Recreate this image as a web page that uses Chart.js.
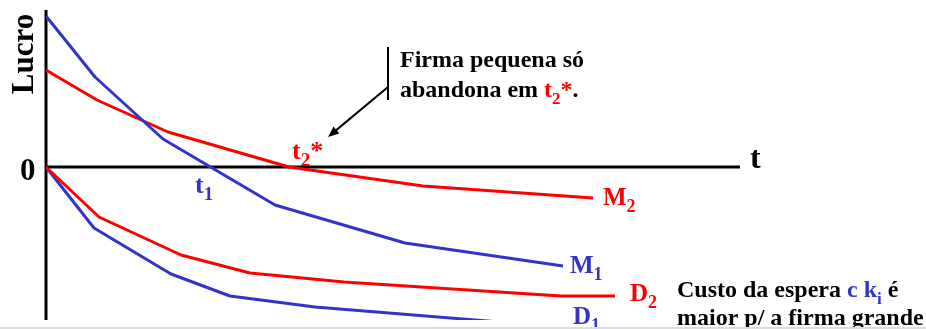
<!DOCTYPE html>
<html>
<head>
<meta charset="utf-8">
<script src="https://cdn.jsdelivr.net/npm/chart.js@4/dist/chart.umd.min.js"></script>
<style>
html,body{margin:0;padding:0;background:#fff;}
canvas{display:block;}
</style>
</head>
<body>
<canvas id="c" width="926" height="329"></canvas>
<script>
// Time values (t) and profit values (Lucro), arbitrary units
const m1T = [0, 4.9, 11.7, 22.9, 35.9, 51.7];
const m1V = [15.1, 9.0, 2.8, -3.8, -7.6, -9.9];
const m2T = [0, 5.1, 12.2, 24.3, 37.7, 54.7];
const m2V = [9.7, 6.7, 3.5, 0, -1.9, -3.1];
const d2T = [0, 5.3, 13.5, 20.4, 29.8, 51.5, 56.9];
const d2V = [0, -5.0, -8.8, -10.6, -11.5, -12.9, -12.9];
const d1T = [0, 4.8, 12.5, 18.4, 26.9, 46.6, 51.5];
const d1V = [0, -6.1, -10.7, -12.9, -14.0, -15.6, -15.7];
const seriesNames = ['M1', 'M2', 'D2', 'D1'];

const RED = '#ff0000';
const BLUE = '#3333cc';
const FONT = '"Liberation Serif", "Times New Roman", serif';

function pts(ts, vs) { return ts.map((t, i) => ({x: t, y: vs[i]})); }

function drawRich(ctx, x, y, parts, size) {
  let cx = x;
  for (const p of parts) {
    const s = p.sub ? Math.round(size * 0.72) : size;
    ctx.font = 'bold ' + s + 'px ' + FONT;
    ctx.fillStyle = p.c || '#000';
    ctx.textAlign = 'left';
    ctx.textBaseline = 'alphabetic';
    const yy = p.sub ? y + size * 0.28 : y;
    ctx.fillText(p.t, cx, yy);
    cx += ctx.measureText(p.t).width;
  }
}

const decor = {
  id: 'decor',
  beforeDatasetsDraw(chart) {
    const ctx = chart.ctx;
    const xs = chart.scales.x, ys = chart.scales.y;
    const x0 = xs.getPixelForValue(0), y0 = ys.getPixelForValue(0);
    ctx.save();
    ctx.strokeStyle = '#000';
    ctx.lineWidth = 3;
    ctx.beginPath();
    ctx.moveTo(x0, chart.chartArea.top);
    ctx.lineTo(x0, chart.chartArea.bottom);
    ctx.moveTo(x0, y0);
    ctx.lineTo(chart.chartArea.right, y0);
    ctx.stroke();
    ctx.restore();
  },
  afterDraw(chart) {
    const ctx = chart.ctx;
    ctx.save();
    // Lucro rotated
    ctx.translate(33, 54);
    ctx.rotate(-Math.PI / 2);
    ctx.font = 'bold 31px ' + FONT;
    ctx.fillStyle = '#000';
    ctx.textAlign = 'center';
    ctx.textBaseline = 'alphabetic';
    ctx.fillText('Lucro', 0, 0);
    ctx.restore();

    ctx.save();
    drawRich(ctx, 20, 180, [{t: '0'}], 31);
    drawRich(ctx, 750, 168, [{t: 't'}], 32);
    drawRich(ctx, 195, 193, [{t: 't', c: BLUE}, {t: '1', c: BLUE, sub: true}], 26);
    drawRich(ctx, 292, 159, [{t: 't', c: RED}, {t: '2', c: RED, sub: true}, {t: '*', c: RED}], 26);

    drawRich(ctx, 400, 67, [{t: 'Firma pequena só'}], 24);
    drawRich(ctx, 400, 97, [{t: 'abandona em '}, {t: 't', c: RED}, {t: '2', c: RED, sub: true}, {t: '*', c: RED}, {t: '.'}], 24);

    drawRich(ctx, 603, 205, [{t: 'M', c: RED}, {t: '2', c: RED, sub: true}], 25);
    drawRich(ctx, 570, 273, [{t: 'M', c: BLUE}, {t: '1', c: BLUE, sub: true}], 25);
    drawRich(ctx, 630, 301, [{t: 'D', c: RED}, {t: '2', c: RED, sub: true}], 25);
    drawRich(ctx, 573, 324, [{t: 'D', c: BLUE}, {t: '1', c: BLUE, sub: true}], 25);

    drawRich(ctx, 677, 297, [{t: 'Custo da espera '}, {t: 'c k', c: BLUE}, {t: 'i', c: BLUE, sub: true}, {t: ' é'}], 24);
    drawRich(ctx, 677, 325, [{t: 'maior p/ a firma grande'}], 24);

    // bracket and arrow
    ctx.strokeStyle = '#000';
    ctx.fillStyle = '#000';
    ctx.lineWidth = 2;
    ctx.beginPath();
    ctx.moveTo(388, 47);
    ctx.lineTo(388, 100);
    ctx.stroke();
    const ax = 388, ay = 87, bx = 328, by = 137;
    const ang = Math.atan2(by - ay, bx - ax);
    ctx.beginPath();
    ctx.moveTo(ax, ay);
    ctx.lineTo(bx - 8 * Math.cos(ang), by - 8 * Math.sin(ang));
    ctx.stroke();
    ctx.beginPath();
    ctx.moveTo(bx, by);
    ctx.lineTo(bx - 11 * Math.cos(ang) + 4.5 * Math.sin(ang), by - 11 * Math.sin(ang) - 4.5 * Math.cos(ang));
    ctx.lineTo(bx - 11 * Math.cos(ang) - 4.5 * Math.sin(ang), by - 11 * Math.sin(ang) + 4.5 * Math.cos(ang));
    ctx.closePath();
    ctx.fill();

    // bottom grey rule
    ctx.strokeStyle = '#dddddd';
    ctx.lineWidth = 2;
    ctx.beginPath();
    ctx.moveTo(0, 328);
    ctx.lineTo(926, 328);
    ctx.stroke();
    ctx.restore();
  }
};

new Chart(document.getElementById('c'), {
  type: 'line',
  data: {
    datasets: [
      {label: seriesNames[0], data: pts(m1T, m1V), borderColor: BLUE},
      {label: seriesNames[1], data: pts(m2T, m2V), borderColor: RED},
      {label: seriesNames[2], data: pts(d2T, d2V), borderColor: RED},
      {label: seriesNames[3], data: pts(d1T, d1V), borderColor: BLUE}
    ]
  },
  options: {
    responsive: false,
    animation: false,
    layout: {padding: {left: 46, right: 186, top: 10, bottom: 9}},
    elements: {
      point: {radius: 0, hoverRadius: 0},
      line: {borderWidth: 3, tension: 0, fill: false, borderJoinStyle: 'round', borderCapStyle: 'butt'}
    },
    plugins: {legend: {display: false}, tooltip: {enabled: false}},
    scales: {
      x: {type: 'linear', min: 0, max: 69.4, display: false},
      y: {type: 'linear', min: -15.3, max: 15.7, display: false}
    }
  },
  plugins: [decor]
});
</script>
</body>
</html>
